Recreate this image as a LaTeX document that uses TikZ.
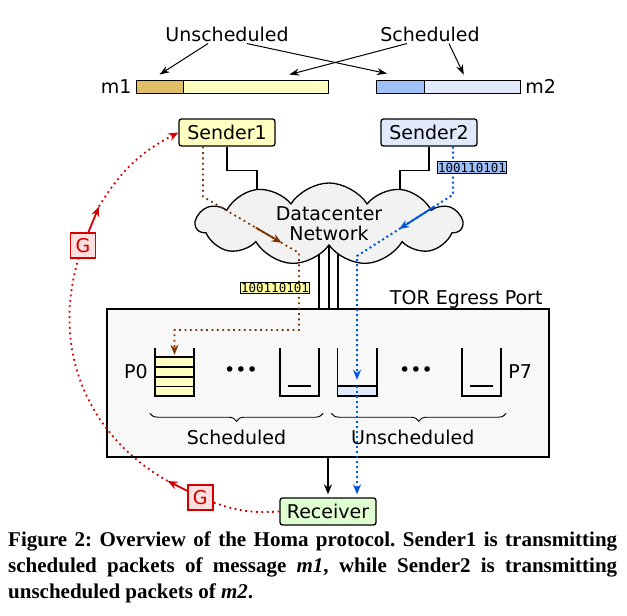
\documentclass[tikz,border=0pt]{standalone}
\usepackage{fontspec}
\setmainfont{DejaVu Sans}
\setmonofont{DejaVu Sans Mono}
\newfontfamily\capfont{Liberation Serif}
\usepackage{tikz}
\usetikzlibrary{positioning,shapes.symbols,decorations.pathreplacing,backgrounds,arrows.meta}

\definecolor{msgyellow}{RGB}{255,255,192}
\definecolor{msggold}{RGB}{224,190,104}
\definecolor{msgblue}{RGB}{160,192,248}
\definecolor{msglight}{RGB}{224,234,252}
\definecolor{pktyellow}{RGB}{255,255,160}
\definecolor{rcvgreen}{RGB}{224,255,208}
\definecolor{cloudgray}{RGB}{242,242,242}
\definecolor{torgray}{RGB}{248,248,248}
\definecolor{schedbrown}{RGB}{128,51,0}
\definecolor{unschedblue}{RGB}{0,85,221}
\definecolor{grantred}{RGB}{212,0,0}
\definecolor{grantpink}{RGB}{255,224,224}

\tikzset{
  host/.style={draw, line width=1.3pt, rounded corners=2.5pt, minimum width=96pt, minimum height=27pt, inner sep=0pt},
  msgbar/.style={draw, line width=0.8pt, minimum height=13pt, inner sep=0pt},
  link/.style={line width=1.5pt},
  headtip/.style={-{Stealth[length=10pt,width=8pt]}},
  pointer/.style={line width=1pt, -{Stealth[length=10pt,width=7pt]}},
  qbox/.style={minimum width=39pt, minimum height=48pt, inner sep=0pt},
  qwall/.style={line width=1.6pt},
  pkt/.style={draw, line width=1.2pt, font=\ttfamily\fontsize{12.5}{12.5}\selectfont, inner xsep=0.3pt, inner ysep=1pt},
  schedpath/.style={schedbrown, line width=1.8pt, dash pattern=on 1.8pt off 3.6pt},
  unschedpath/.style={unschedblue, line width=2pt, dash pattern=on 2pt off 3pt},
  grantpath/.style={grantred, line width=1.8pt, dash pattern=on 1.8pt off 3.6pt},
  grantarrow/.style={grantred, line width=1.8pt, headtip},
  grantbox/.style={draw=grantred, fill=grantpink, text=grantred, line width=1.5pt, minimum size=25pt, inner sep=0pt},
  brace/.style={decorate, decoration={brace, mirror, amplitude=8pt}, line width=0.9pt}
}

\begin{document}
\begin{tikzpicture}[x=1pt, y=1pt, font=\fontsize{19}{22}\selectfont, inner sep=2pt]
\useasboundingbox (0,0) rectangle (627,-616);

% the two messages
\node[msgbar, fill=msggold, minimum width=47pt] (m1u) at (159.5,-86.5) {};
\node[msgbar, fill=msgyellow, minimum width=145pt, right=0pt of m1u] (m1s) {};
\node[msgbar, fill=msgblue, minimum width=48pt] (m2u) at (400,-86.5) {};
\node[msgbar, fill=msglight, minimum width=96pt, right=0pt of m2u] (m2s) {};
\node[left=2pt of m1u] (m1lab) {m1};
\node[right=2pt of m2s] (m2lab) {m2};

\node (unsch) at (227,-34) {Unscheduled};
\node (sch) at (430,-34) {Scheduled};
\draw[pointer] ([xshift=-19pt]unsch.south) -- ([yshift=5pt]m1u.north);
\draw[pointer] ([xshift=20pt]unsch.south) -- ([xshift=-13pt,yshift=6pt]m2u.north);
\draw[pointer] ([xshift=-23pt]sch.south) -- ([xshift=33pt,yshift=5pt]m1s.north);
\draw[pointer] ([xshift=19pt]sch.south) -- ([xshift=-9pt,yshift=5pt]m2s.north);

% hosts and network
\node[host, fill=msgyellow] (Sender1) at (227,-132.5) {Sender1};
\node[host, fill=msglight] (Sender2) at (429,-132.5) {Sender2};
\node[cloud, draw, fill=cloudgray, line width=1.3pt, cloud puffs=11, cloud puff arc=115, aspect=3.2,
      minimum width=266pt, minimum height=82pt, align=center, inner sep=0pt] (net) at (329,-224) {Datacenter\\[-2pt]Network};

% switch
\node[draw, fill=torgray, line width=1.3pt, minimum width=442pt, minimum height=148pt, inner sep=0pt] (tor) at (328,-383) {};
\node[anchor=base east] (torlab) at ([xshift=-5pt,yshift=4pt]tor.north east) {TOR Egress Port};

\begin{scope}[on background layer]
  \draw[link] (Sender1.south) -- ++(0,-24) -| ([xshift=-72pt]net.center);
  \draw[link] (Sender2.south) -- ++(0,-24) -| ([xshift=71pt]net.center);
  \foreach \dx in {-10,0,9}
    \draw[link] ([xshift=\dx pt]net.center) -- ([xshift=\dx pt]net.center |- tor.north);
\end{scope}

% priority queues
\foreach \q/\x in {q0/174.5, q1/299.5, q2/357, q3/481.5}
  \node[qbox] (\q) at (\x,-372) {};
\foreach \i in {0,...,3}
  \draw[qwall, fill=msgyellow] ([yshift=\i*9.75pt]q0.south west) rectangle ([yshift=\i*9.75pt+9.75pt]q0.south east);
\draw[qwall, fill=msglight] (q2.south west) rectangle ([yshift=10pt]q2.south east);
\foreach \q in {q1,q3}
  \draw[qwall] ([shift={(8pt,10pt)}]\q.south west) -- ([shift={(-8pt,10pt)}]\q.south east);
\foreach \q in {q0,q1,q2,q3}
  \draw[qwall] (\q.north west) |- (\q.south east) -- (\q.north east);
\node[left=5pt of q0] (p0) {P0};
\node[right=5pt of q3] (p7) {P7};
\node (dots1) at (241,-372) {•••};
\node (dots2) at (416,-372) {•••};
\draw[brace] ([xshift=-5pt,yshift=-17pt]q0.south west) -- node[below=14pt] (schlab) {Scheduled} ([xshift=4pt,yshift=-17pt]q1.south east);
\draw[brace] ([xshift=-6pt,yshift=-17pt]q2.south west) -- node[below=14pt, xshift=-6pt] (unschlab) {Unscheduled} ([xshift=5pt,yshift=-17pt]q3.south east);

% receiver
\node[host, fill=rcvgreen] (Receiver) at (328,-511.5) {Receiver};
\draw[link, headtip] (tor.south) -- ([yshift=3pt]Receiver.north);

% scheduled packets of m1
\coordinate (b1) at (299,-253);
\draw[schedpath, headtip] ([xshift=-24pt]Sender1.south) -- ++(0,-50)
  -- coordinate[pos=0.55] (ba1) coordinate[pos=0.82] (ba2) (b1)
  -- ++(0,-77) -| ([yshift=-7pt]q0.north);
\draw[schedbrown, line width=1.8pt, headtip] (ba1) -- (ba2);
\node[pkt, fill=pktyellow] (pkt1) at (275,-288) {100110101};

% unscheduled packets of m2
\coordinate (u1) at (357,-256);
\draw[unschedpath, headtip] ([xshift=24pt]Sender2.south) -- ++(0,-48)
  -- coordinate[pos=0.19] (ua1) coordinate[pos=0.56] (ua2) (u1)
  -- ([yshift=-32pt]q2.north);
\draw[unschedblue, line width=1.8pt, headtip] (ua1) -- (ua2);
\draw[unschedpath, headtip] ([yshift=10pt]q2.south) -- ([yshift=3pt]q2.south |- Receiver.north);
\node[pkt, fill=msgblue] (pkt2) at (472,-167.5) {100110101};

% grants back to Sender1
\coordinate (ctr) at (273,-311);
\node[grantbox] (G1) at ([shift={(ctr)}]-111.3:200) {G};
\coordinate (g1tip) at ([shift={(ctr)}]-121.8:200);
\node[grantbox] (G2) at ([shift={(ctr)}]161:201) {G};
\coordinate (g2tip) at ([shift={(ctr)}]149:203);
\draw[grantpath] (Receiver.west) to[bend left=11.6] (G1);
\draw[grantarrow] (G1) -- (g1tip);
\draw[grantpath] (g1tip) to[bend left=38.6] (G2);
\draw[grantarrow] (G2) -- (g2tip);
\draw[grantpath, headtip] (g2tip) to[bend left=15.6] (Sender1.west);

% caption
\node[anchor=north west, inner sep=0pt, text width=609pt, align=justify,
      font=\capfont\bfseries\fontsize{21}{26}\selectfont] (caption) at (8,-532)
  {\frenchspacing Figure 2: Overview of the Homa protocol. Sender1 is transmitting scheduled packets of message \textit{m1}, while Sender2 is transmitting\linebreak unscheduled packets of \textit{m2}.};
\end{tikzpicture}
\end{document}
